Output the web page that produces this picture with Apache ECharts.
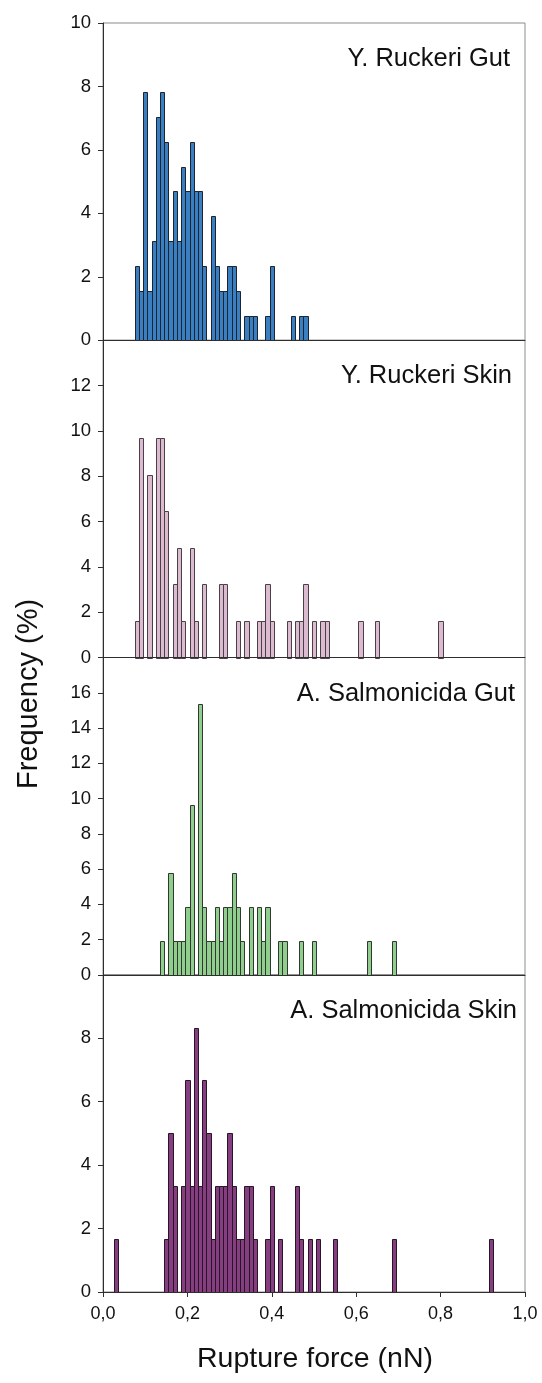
<!DOCTYPE html>
<html>
<head>
<meta charset="utf-8">
<script src="https://cdn.jsdelivr.net/npm/echarts@6/dist/echarts.min.js"></script>
<style>
  html, body { margin: 0; padding: 0; background: #fff; }
  #chart { width: 542px; height: 1383px; }
</style>
</head>
<body>
<div id="chart"></div>
<script>
// Rupture-force histograms: bin centres (nN, 0.01 nN bins) and frequency (%)
const yrGutForce = [0.08,0.09,0.10,0.11,0.12,0.13,0.14,0.15,0.16,0.17,0.18,0.19,0.20,0.21,0.22,0.23,0.24,
  0.26,0.27,0.28,0.29,0.30,0.31,0.32,0.34,0.35,0.36,0.39,0.40,0.45,0.47,0.48];
const yrGutFreq = [2.34,1.56,7.81,1.56,3.13,7.03,7.81,6.25,3.13,4.69,3.13,5.47,4.69,6.25,4.69,4.69,2.34,
  3.91,2.34,1.56,1.56,2.34,2.34,1.56,0.78,0.78,0.78,0.78,2.34,0.78,0.78,0.78];

const yrSkinForce = [0.08,0.09,0.11,0.13,0.14,0.15,0.17,0.18,0.19,0.21,0.22,0.24,0.28,0.29,0.32,0.34,
  0.37,0.38,0.39,0.40,0.44,0.46,0.47,0.48,0.50,0.52,0.53,0.61,0.65,0.80];
const yrSkinFreq = [1.61,9.68,8.06,9.68,9.68,6.45,3.23,4.84,1.61,4.84,1.61,3.23,3.23,3.23,1.61,1.61,
  1.61,1.61,3.23,1.61,1.61,1.61,1.61,3.23,1.61,1.61,1.61,1.61,1.61,1.61];

const asGutForce = [0.14,0.16,0.17,0.18,0.19,0.20,0.21,0.23,0.24,0.25,0.26,0.27,0.28,0.29,0.30,0.31,
  0.32,0.33,0.35,0.37,0.38,0.39,0.42,0.43,0.47,0.50,0.63,0.69];
const asGutFreq = [1.92,5.77,1.92,1.92,1.92,3.85,9.62,15.38,3.85,1.92,1.92,3.85,1.92,3.85,3.85,5.77,
  3.85,1.92,3.85,3.85,1.92,3.85,1.92,1.92,1.92,1.92,1.92,1.92];

const asSkinForce = [0.03,0.15,0.16,0.17,0.19,0.20,0.21,0.22,0.23,0.24,0.25,0.26,0.27,0.28,0.29,0.30,
  0.31,0.32,0.33,0.34,0.35,0.36,0.39,0.40,0.42,0.46,0.47,0.49,0.51,0.55,0.69,0.92];
const asSkinFreq = [1.67,1.67,5.00,3.33,3.33,6.67,3.33,8.33,3.33,6.67,5.00,1.67,3.33,3.33,3.33,5.00,
  3.33,1.67,1.67,3.33,3.33,1.67,1.67,3.33,1.67,3.33,1.67,1.67,1.67,1.67,1.67,1.67];

const panelTitles = ['Y. Ruckeri Gut', 'Y. Ruckeri Skin', 'A. Salmonicida Gut', 'A. Salmonicida Skin'];
const panelYMax = [10, 14, 18, 10];
const xAxisTitle = 'Rupture force (nN)';
const yAxisTitle = 'Frequency (%)';

const panels = [
  { force: yrGutForce,  freq: yrGutFreq,  fill: '#3a7fc1', edge: '#1c2430' },
  { force: yrSkinForce, freq: yrSkinFreq, fill: '#dcbad0', edge: '#4a4048' },
  { force: asGutForce,  freq: asGutFreq,  fill: '#8fce8d', edge: '#303830' },
  { force: asSkinForce, freq: asSkinFreq, fill: '#853e7f', edge: '#2a1428' }
];

// layout
const FONT = '"Liberation Sans", Arial, sans-serif';
const LEFT = 103, WIDTH = 422, TOP = 23, PANEL_H = 317.25;
const BIN = 0.01;
const titleRight = [510, 512, 515, 517];

// one histogram bar spanning its whole bin, edges snapped to the pixel grid
function binBar(fill, edge) {
  return function (params, api) {
    const f = api.value(0), v = api.value(1);
    const p0 = api.coord([f - BIN / 2, 0]);
    const p1 = api.coord([f + BIN / 2, v]);
    const x0 = Math.round(p0[0]) + 0.5, x1 = Math.round(p1[0]) + 0.5;
    const yb = Math.round(p0[1]) + 0.5, yt = Math.round(p1[1]) + 0.5;
    return {
      type: 'rect',
      shape: { x: x0, y: yt, width: x1 - x0, height: yb - yt },
      style: { fill: fill, stroke: edge, lineWidth: 1 }
    };
  };
}

const grids = [], xAxes = [], yAxes = [], series = [], graphics = [];

panels.forEach((p, i) => {
  const last = i === panels.length - 1;
  grids.push({
    left: LEFT, width: WIDTH, top: TOP + i * PANEL_H, height: PANEL_H,
    show: true, borderColor: '#8c8c8c', borderWidth: 1, backgroundColor: 'transparent'
  });
  xAxes.push({
    type: 'value', gridIndex: i, min: 0, max: 1, interval: 0.2,
    axisLine: { show: true, lineStyle: { color: '#2e2e2e', width: 1 } },
    axisTick: { show: last, length: 5, lineStyle: { color: '#2e2e2e' } },
    axisLabel: {
      show: last, margin: 13, color: '#111', fontSize: 18, fontFamily: FONT,
      formatter: v => v.toFixed(1).replace('.', ',')
    },
    splitLine: { show: false },
    z: 5
  });
  const ymax = panelYMax[i];
  yAxes.push({
    type: 'value', gridIndex: i, min: 0, max: ymax, interval: 2,
    axisLine: { show: true, lineStyle: { color: '#2e2e2e', width: 1 } },
    axisTick: { show: true, length: 5, lineStyle: { color: '#2e2e2e' } },
    axisLabel: {
      margin: 12, color: '#111', fontSize: 18.5, fontFamily: FONT,
      formatter: v => (i > 0 && v === ymax) ? '' : String(v)
    },
    splitLine: { show: false },
    z: 5
  });
  series.push({
    type: 'custom', coordinateSystem: 'cartesian2d', xAxisIndex: i, yAxisIndex: i,
    encode: { x: 0, y: 1 },
    data: p.force.map((f, k) => [f, p.freq[k]]),
    renderItem: binBar(p.fill, p.edge),
    silent: true,
    z: 2
  });
  graphics.push({
    type: 'text', right: 542 - titleRight[i], top: TOP + i * PANEL_H + 23,
    style: { text: panelTitles[i], font: '25.5px ' + FONT, fill: '#111' }
  });
});

graphics.push({
  type: 'text', x: 29, y: 694, rotation: Math.PI / 2,
  style: { text: yAxisTitle, font: '29px ' + FONT, fill: '#111', align: 'center', verticalAlign: 'middle' }
});
graphics.push({
  type: 'text', x: 315, y: 1359,
  style: { text: xAxisTitle, font: '28.5px ' + FONT, fill: '#111', align: 'center', verticalAlign: 'middle' }
});

const chart = echarts.init(document.getElementById('chart'), null, { renderer: 'canvas' });
chart.setOption({
  animation: false,
  backgroundColor: '#fff',
  grid: grids,
  xAxis: xAxes,
  yAxis: yAxes,
  series: series,
  graphic: graphics
});
</script>
</body>
</html>
